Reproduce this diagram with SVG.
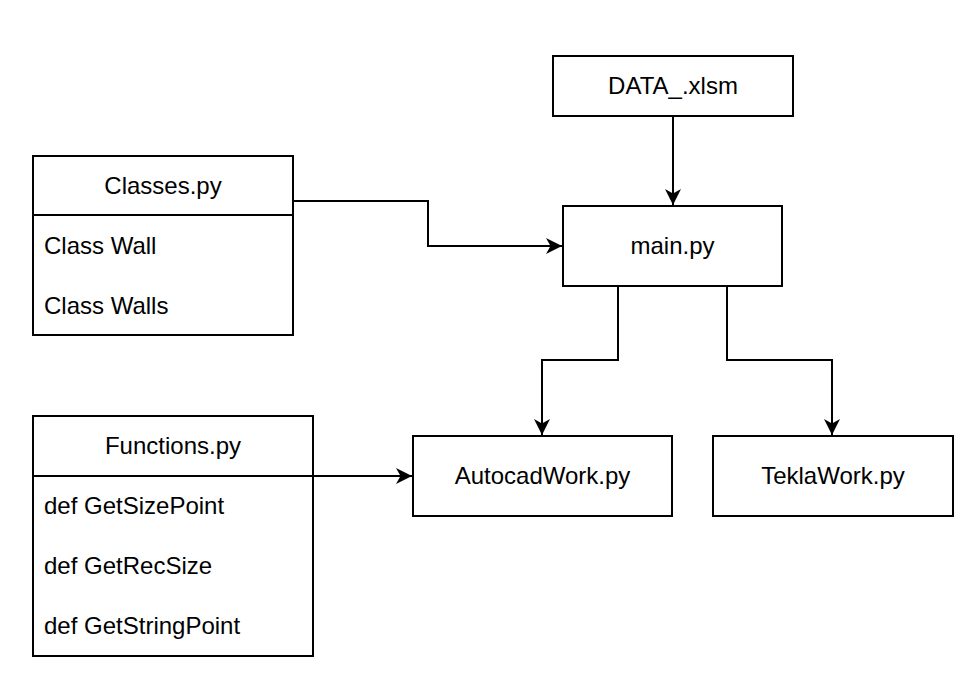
<svg xmlns="http://www.w3.org/2000/svg" width="977" height="699" viewBox="0 0 977 699">
<defs>
<marker id="arr" viewBox="0 0 17 16" refX="16" refY="8" markerWidth="17" markerHeight="16" markerUnits="userSpaceOnUse" orient="auto">
<path d="M0,0 L16,8 L0,16 L4.5,8 Z" fill="#000"/>
</marker>
<style>
.box{fill:#fff;stroke:#000;stroke-width:2}
.ln{fill:none;stroke:#000;stroke-width:2}
.c{font-family:"Liberation Sans",Arial,sans-serif;font-size:24px;fill:#000;text-anchor:middle}
.l{font-family:"Liberation Sans",Arial,sans-serif;font-size:24px;fill:#000}
</style>
</defs>
<rect width="977" height="699" fill="#fff"/>
<g id="connectors">
<path class="ln" d="M673,116 L673,205" marker-end="url(#arr)"/>
<path class="ln" d="M293,201 L428,201 L428,246 L562,246" marker-end="url(#arr)"/>
<path class="ln" d="M618,286 L618,360 L542,360 L542,435" marker-end="url(#arr)"/>
<path class="ln" d="M727,286 L727,360 L832,360 L832,435" marker-end="url(#arr)"/>
<path class="ln" d="M313,476 L412,476" marker-end="url(#arr)"/>
</g>
<g id="data">
<rect class="box" x="553" y="56" width="240" height="60"/>
<text class="c" x="673" y="94">DATA_.xlsm</text>
</g>
<g id="main">
<rect class="box" x="563" y="206" width="219" height="80"/>
<text class="c" x="672.5" y="254">main.py</text>
</g>
<g id="classes">
<rect class="box" x="33" y="156" width="260" height="179"/>
<line class="ln" x1="33" y1="215" x2="293" y2="215"/>
<text class="c" x="163" y="194">Classes.py</text>
<text class="l" x="44" y="254">Class Wall</text>
<text class="l" x="44" y="314">Class Walls</text>
</g>
<g id="functions">
<rect class="box" x="33" y="416" width="280" height="240"/>
<line class="ln" x1="33" y1="476" x2="313" y2="476"/>
<text class="c" x="173" y="454">Functions.py</text>
<text class="l" x="44" y="514">def GetSizePoint</text>
<text class="l" x="44" y="574">def GetRecSize</text>
<text class="l" x="44" y="634">def GetStringPoint</text>
</g>
<g id="autocad">
<rect class="box" x="413" y="436" width="259" height="80"/>
<text class="c" x="542.5" y="484">AutocadWork.py</text>
</g>
<g id="tekla">
<rect class="box" x="713" y="436" width="240" height="80"/>
<text class="c" x="833" y="484">TeklaWork.py</text>
</g>
</svg>
